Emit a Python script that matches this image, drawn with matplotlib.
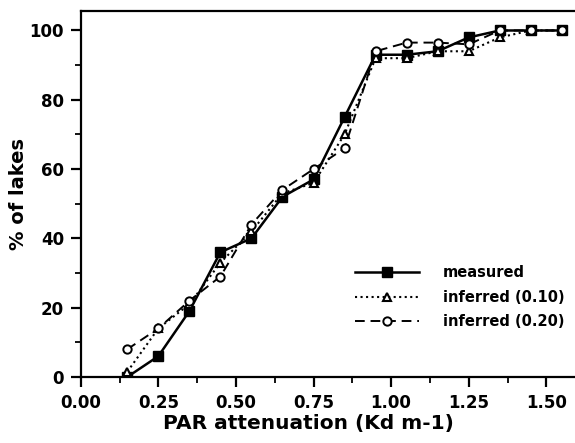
"""
Cumulative % of lakes vs PAR attenuation: measured and inferred values.
"""

import matplotlib.pyplot as plt
from matplotlib.ticker import MultipleLocator

kd = [0.15, 0.25, 0.35, 0.45, 0.55, 0.65, 0.75, 0.85, 0.95, 1.05, 1.15, 1.25, 1.35, 1.45, 1.55]
measured = [0, 6, 19, 36, 40, 52, 57, 75, 93, 93, 94, 98, 100, 100, 100]
inferred_010 = [1.5, 14, 21, 33, 42, 53, 56, 70, 92, 92, 94, 94, 98, 100, 100]
inferred_020 = [8, 14, 22, 29, 44, 54, 60, 66, 94, 96.5, 96.5, 96, 100, 100, 100]

x_ticks = [0.0, 0.25, 0.5, 0.75, 1.0, 1.25, 1.5]
x_tick_labels = ["0.00", "0.25", "0.50", "0.75", "1.00", "1.25", "1.50"]


def main() -> None:
    plt.rcParams["font.family"] = ["DejaVu Sans"]
    plt.rcParams["font.weight"] = "bold"

    fig = plt.figure(figsize=(5.75, 4.43), dpi=100)
    ax = fig.add_axes([0.1404, 0.149, 0.8637, 0.826])

    ax.plot(kd, measured, "-", color="black", lw=1.8, marker="s", ms=6.5,
            mfc="black", mec="black", label="measured", zorder=3)
    ax.plot(kd, inferred_010, ":", color="black", lw=1.5, marker="^", ms=5.5,
            mfc="white", mec="black", mew=1.5, label="inferred (0.10)", zorder=4)
    ax.plot(kd, inferred_020, "--", color="black", lw=1.4, marker="o", ms=6,
            mfc="white", mec="black", mew=1.4, label="inferred (0.20)", zorder=5,
            dashes=(5, 3))

    ax.set_xlim(0, 1.6)
    ax.set_ylim(0, 105.6)
    ax.set_xticks(x_ticks)
    ax.set_xticklabels(x_tick_labels)
    ax.xaxis.set_minor_locator(MultipleLocator(0.125))
    ax.yaxis.set_major_locator(MultipleLocator(20))
    ax.yaxis.set_minor_locator(MultipleLocator(10))

    ax.spines["right"].set_visible(False)
    for side in ("left", "bottom", "top"):
        ax.spines[side].set_linewidth(1.6)
    ax.tick_params(which="major", direction="out", length=7, width=1.6,
                   labelsize=12)
    ax.tick_params(axis="x", which="major", pad=5)
    ax.tick_params(axis="y", which="major", pad=5)
    ax.tick_params(which="minor", direction="out", length=4.5, width=1.3)

    ax.set_xlabel("PAR attenuation (Kd m-1)", fontsize=14.5, fontweight="bold")
    ax.xaxis.set_label_coords(0.458, -0.1)
    ax.set_ylabel("% of lakes", fontsize=14, fontweight="bold", labelpad=1)

    leg = ax.legend(loc="upper left", bbox_to_anchor=(0.5524, 0.305), frameon=False,
                    borderaxespad=0, borderpad=0, handlelength=4.4, fontsize=10.5,
                    labelspacing=0.65, handletextpad=1.6)
    for text in leg.get_texts():
        text.set_fontweight("bold")

    fig.savefig("out.png", dpi=100)
    plt.close(fig)


if __name__ == "__main__":
    main()
